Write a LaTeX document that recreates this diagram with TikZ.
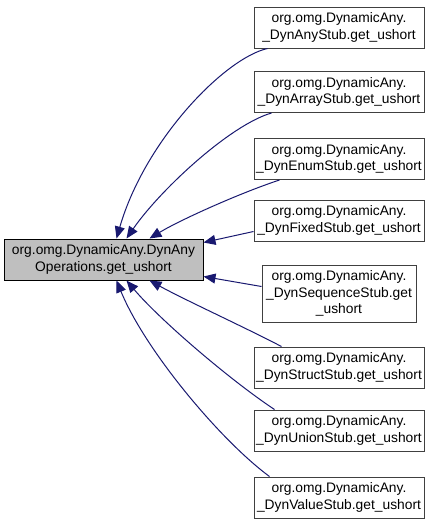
\documentclass[tikz,border=0pt]{standalone}
\usepackage{fontspec}
\setmainfont{Liberation Sans}
\usetikzlibrary{arrows.meta}
\definecolor{edgec}{HTML}{191970}
\definecolor{bord}{HTML}{404040}
\definecolor{mainfill}{HTML}{BFBFBF}
\begin{document}
\begin{tikzpicture}[x=1pt,y=-1pt,
  box/.style={draw=bord, line width=1pt, fill=white, align=center, inner sep=0pt,
    minimum width=170pt, minimum height=41pt, font=\fontsize{13.8}{16.5}\selectfont},
  mainbox/.style={box, fill=mainfill, draw=black, minimum width=199pt},
  edge/.style={draw=edgec, line width=1pt, -{Triangle[length=12pt,width=10pt,fill=edgec]}}]
\useasboundingbox (0,0) rectangle (435,525);
\node[mainbox] (m) at (103.5,259.5) {org.omg.DynamicAny.DynAny\\Operations.get\_ushort};
\node[box] (b1) at (339,27.5) {org.omg.DynamicAny.\\\_DynAnyStub.get\_ushort};
\node[box] (b2) at (339,92) {org.omg.DynamicAny.\\\_DynArrayStub.get\_ushort};
\node[box] (b3) at (339,159) {org.omg.DynamicAny.\\\_DynEnumStub.get\_ushort};
\node[box] (b4) at (339,220.5) {org.omg.DynamicAny.\\\_DynFixedStub.get\_ushort};
\node[box, minimum width=154pt, minimum height=57pt] (b5) at (339,293.5) {org.omg.DynamicAny.\\\_DynSequenceStub.get\\\_ushort};
\node[box] (b6) at (339,367.5) {org.omg.DynamicAny.\\\_DynStructStub.get\_ushort};
\node[box] (b7) at (339,430.5) {org.omg.DynamicAny.\\\_DynUnionStub.get\_ushort};
\node[box] (b8) at (339,497.5) {org.omg.DynamicAny.\\\_DynValueStub.get\_ushort};
\draw[edge] ([xshift=14pt]b1.south west) .. controls (225,58) and (145,140) .. ([xshift=113pt]m.north west);
\draw[edge] ([xshift=18pt]b2.south west) .. controls (230,125) and (160,190) .. ([xshift=123pt]m.north west);
\draw[edge] ([xshift=26pt]b3.south west) .. controls (240,193) and (180,220) .. ([xshift=146pt]m.north west);
\draw[edge] ([yshift=-11pt]b4.west) -- ([yshift=-4pt]m.north east);
\draw[edge] ([yshift=7pt]b5.west) -- ([yshift=4pt]m.south east);
\draw[edge] ([xshift=28pt]b6.north west) .. controls (240,325) and (185,300) .. ([xshift=146pt]m.south west);
\draw[edge] ([xshift=21pt]b7.north west) .. controls (230,380) and (160,320) .. ([xshift=123pt]m.south west);
\draw[edge] ([xshift=16pt]b8.north west) .. controls (220,440) and (145,350) .. ([xshift=113pt]m.south west);
\end{tikzpicture}
\end{document}
